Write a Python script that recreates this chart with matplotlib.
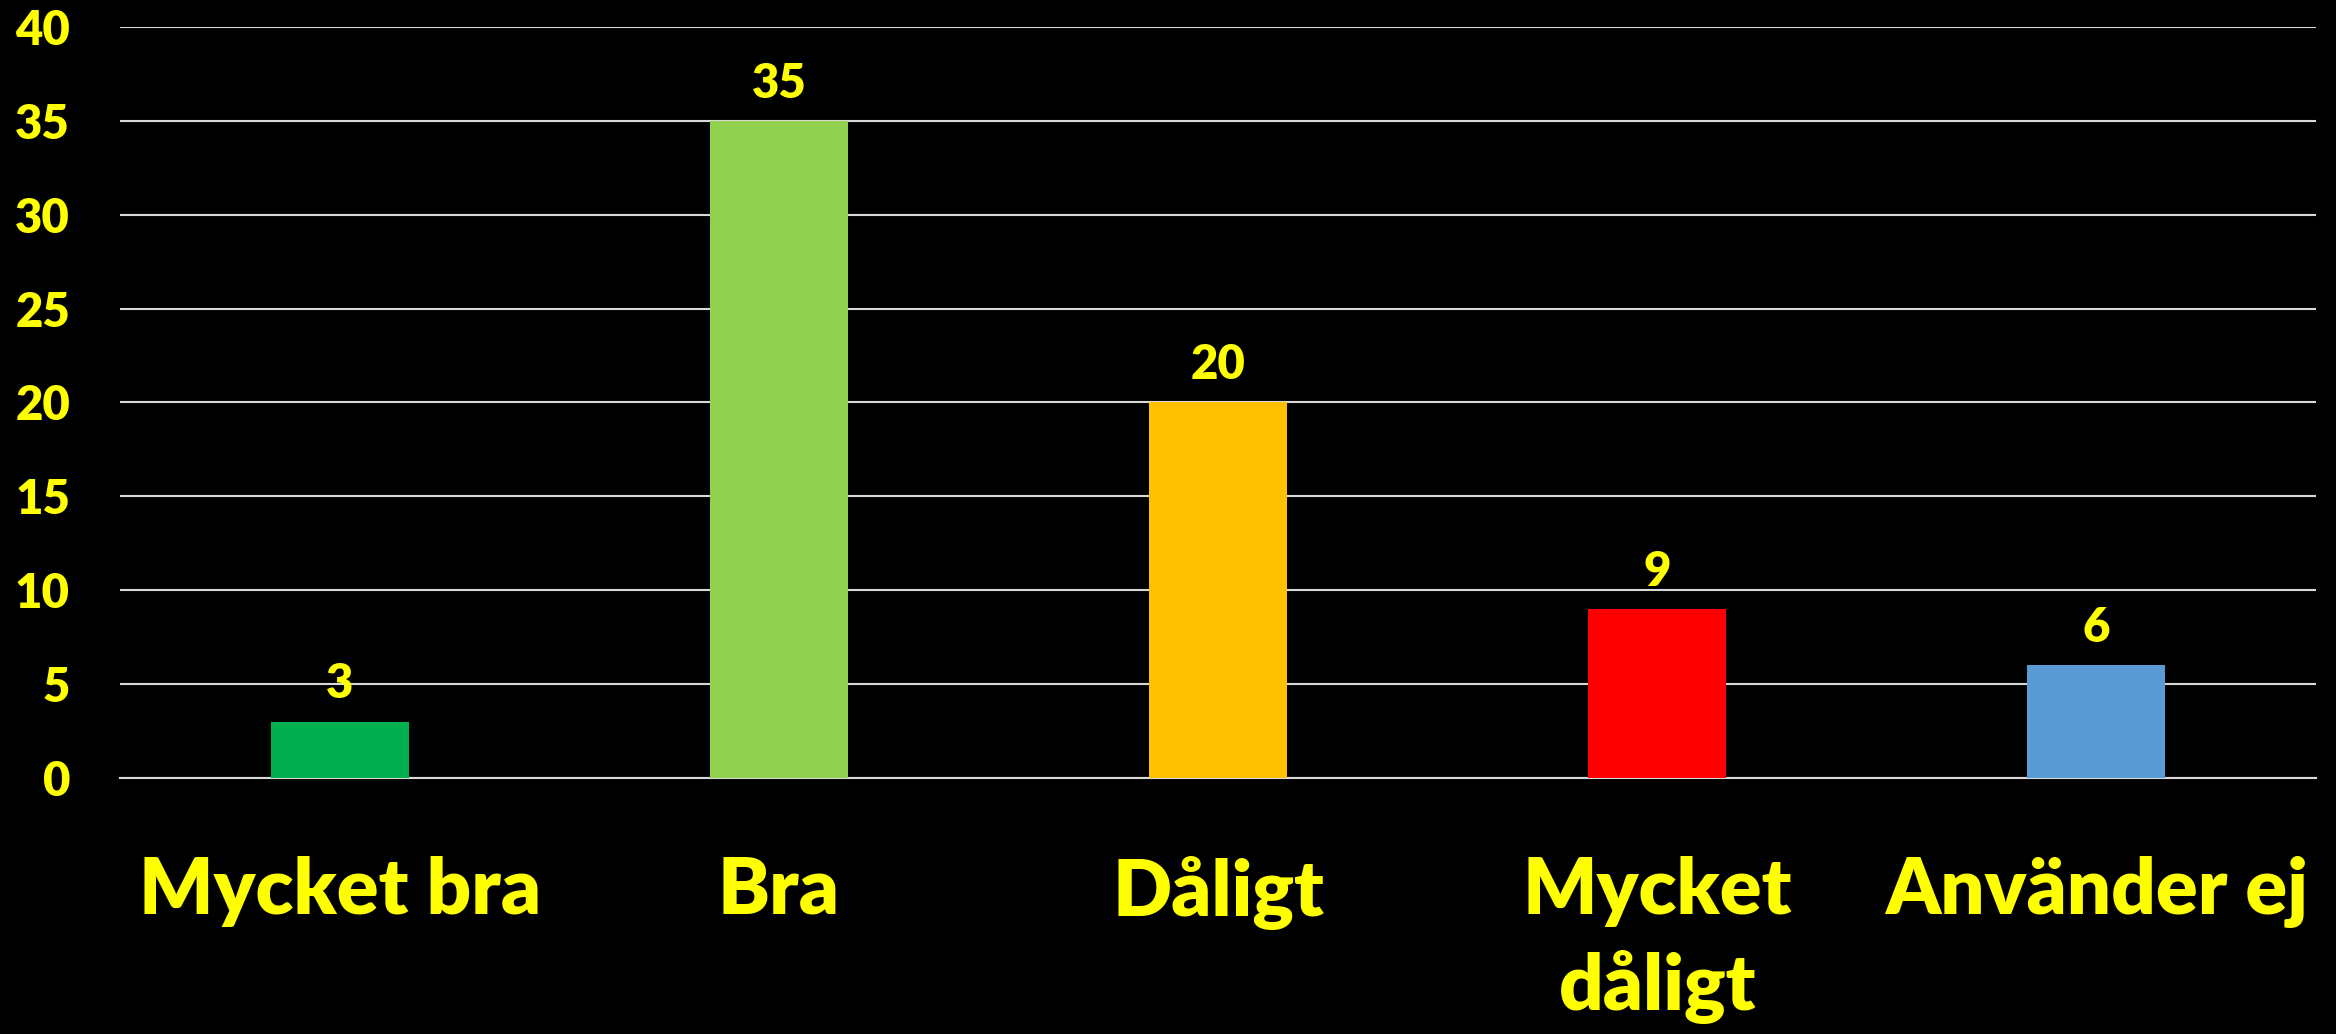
import matplotlib
matplotlib.use("Agg")
import matplotlib.pyplot as plt
import numpy as np

categories = ["Mycket bra", "Bra", "Dåligt", "Mycket\ndåligt", "Använder ej"]
values = [3, 35, 20, 9, 6]
bar_colors = ["#00B050", "#92D050", "#FFC000", "#FF0000", "#5B9BD5"]
yticks = [0, 5, 10, 15, 20, 25, 30, 35, 40]

TEXT = "#FFFF00"
GRID = "#D9D9D9"
WEIGHT = "heavy"

plt.rcParams["font.family"] = ["Lato", "DejaVu Sans"]

fig = plt.figure(figsize=(23.36, 10.34), dpi=100, facecolor="black")
ax = fig.add_axes([0.0514, 0.2476, 0.94, 0.7263], facecolor="black")

x = np.arange(len(categories))
bars = ax.bar(x, values, width=0.314, color=bar_colors, zorder=3)

ax.set_xlim(-0.5, len(categories) - 0.5)
ax.set_ylim(0, 40)
ax.set_yticks(yticks)
ax.yaxis.grid(True, color=GRID, linewidth=1.5, zorder=0)
ax.set_axisbelow(True)

for side in ("top", "right", "left"):
    ax.spines[side].set_visible(False)
ax.spines["bottom"].set_color(GRID)
ax.spines["bottom"].set_linewidth(1.5)

ax.set_xticks(x)
ax.set_xticklabels(categories, linespacing=1.38)
ax.tick_params(axis="x", length=0, pad=56, labelsize=56, labelcolor=TEXT)
ax.tick_params(axis="y", length=0, pad=36, labelsize=34, labelcolor=TEXT)
for lbl in ax.get_xticklabels() + ax.get_yticklabels():
    lbl.set_fontweight(WEIGHT)

ax.bar_label(bars, labels=[str(v) for v in values], padding=11,
             color=TEXT, fontsize=34, fontweight=WEIGHT)

fig.savefig("out.png", dpi=100, facecolor="black")
